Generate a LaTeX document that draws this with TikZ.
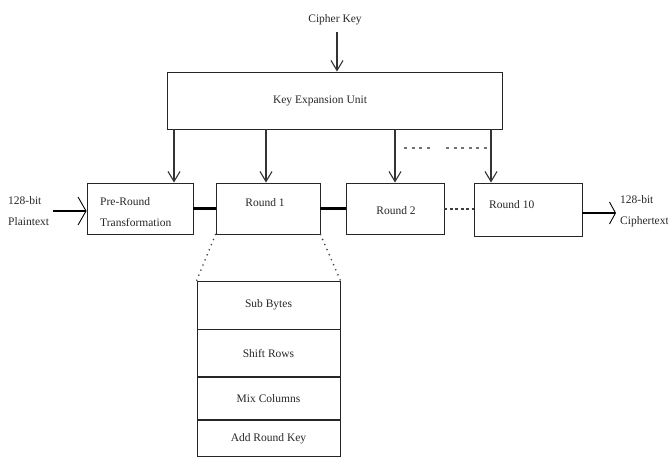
\documentclass[tikz,border=0pt]{standalone}
\usepackage{fontspec}
\setmainfont{Liberation Serif}
\usetikzlibrary{arrows.meta}
\begin{document}
\begin{tikzpicture}[x=1pt,y=-1pt,
  every node/.style={font=\fontsize{11.5}{13}\selectfont, text=black!85},
  box/.style={draw=black!85, line width=0.9pt, rectangle, inner sep=0pt},
  lbl/.style={inner sep=0pt},
  keyarrow/.style={draw=black!80, line width=1.3pt, -{Straight Barb[length=10pt,width=12pt,line width=1.1pt]}},
  thickline/.style={draw=black, line width=2.6pt},
  bigarrow/.style={draw=black, line width=2.6pt, -{Straight Barb[length=8pt,width=28pt,line width=0.9pt]}},
  dotline/.style={draw=black!75, line width=1.8pt, line cap=round, dash pattern=on 0pt off 5.5pt},
  dashline/.style={draw=black!55, line width=1.6pt, dash pattern=on 3pt off 4.5pt}
]
\useasboundingbox (0,0) rectangle (668,456);

% Cipher key and key expansion
\node[lbl] (ck) at (335,20) {Cipher Key};
\node[box, minimum width=335pt, minimum height=57pt] (keu) at (334.5,100.5) {};
\node[lbl] (keut) at (320,101) {Key Expansion Unit};
\coordinate (ckS) at (337,32);
\draw[keyarrow] (ckS) -- (ckS |- keu.north);

% round boxes
\node[box, minimum width=106pt, minimum height=51pt] (pre) at (140,208.5) {};
\node[box, minimum width=104pt, minimum height=51pt] (r1) at (268,208.5) {};
\node[box, minimum width=98pt, minimum height=51pt] (r2) at (395,208.5) {};
\node[box, minimum width=108pt, minimum height=53pt] (r10) at (528,209.5) {};

\node[lbl, anchor=west] (preA) at (100,202) {Pre-Round};
\node[lbl, anchor=west] (preB) at (100,222) {Transformation};
\node[lbl] (r1t) at (265,203) {Round 1};
\node[lbl] (r2t) at (396,211) {Round 2};
\node[lbl, anchor=west] (r10t) at (489,205) {Round 10};

% key arrows
\coordinate (k1) at (174,0);
\coordinate (k2) at (266,0);
\coordinate (k3) at (395,0);
\coordinate (k4) at (491,0);
\draw[keyarrow] (keu.south -| k1) -- (pre.north -| k1);
\draw[keyarrow] (keu.south -| k2) -- (r1.north -| k2);
\draw[keyarrow] (keu.south -| k3) -- (r2.north -| k3);
\draw[keyarrow] (keu.south -| k4) -- (r10.north -| k4);
\coordinate (d1a) at (404,148);
\coordinate (d1b) at (434,148);
\coordinate (d2a) at (446,148);
\coordinate (d2b) at (488,148);
\draw[dashline] (d1a) -- (d1b);
\draw[dashline] (d2a) -- (d2b);

% connectors between rounds
\draw[thickline] (pre.east) -- (r1.west);
\draw[thickline] (r1.east) -- (r2.west);
\draw[dashline, draw=black!75, line width=2pt, dash pattern=on 3pt off 2.5pt] (r2.east) -- (r2.east -| r10.west);

% input and output
\node[lbl, anchor=west] (inA) at (8,201) {128-bit};
\node[lbl, anchor=west] (inB) at (8,222) {Plaintext};
\coordinate (inS) at (53,211);
\draw[bigarrow] (inS) -- (inS -| pre.west);
\node[lbl, anchor=west] (outA) at (620,200) {128-bit};
\node[lbl, anchor=west] (outB) at (620,222) {Ciphertext};
\coordinate (outE) at (616,213);
\draw[bigarrow, -{Straight Barb[length=6pt,width=22pt,line width=0.9pt]}] (outE -| r10.east) -- (outE);

% expanded round stack
\node[box, minimum width=143pt, minimum height=48pt] (sb) at (268.5,305) {Sub Bytes};
\node[box, minimum width=143pt, minimum height=47pt, anchor=north] (sr) at (sb.south) {Shift Rows};
\node[box, minimum width=143pt, minimum height=42pt, anchor=north] (mc) at (sr.south) {Mix Columns};
\node[box, minimum width=143pt, minimum height=36pt, anchor=north] (ark) at (mc.south) {Add Round Key};

\draw[dotline] (r1.south west) -- (sb.north west);
\draw[dotline] (r1.south east) -- (sb.north east);
\end{tikzpicture}
\end{document}
